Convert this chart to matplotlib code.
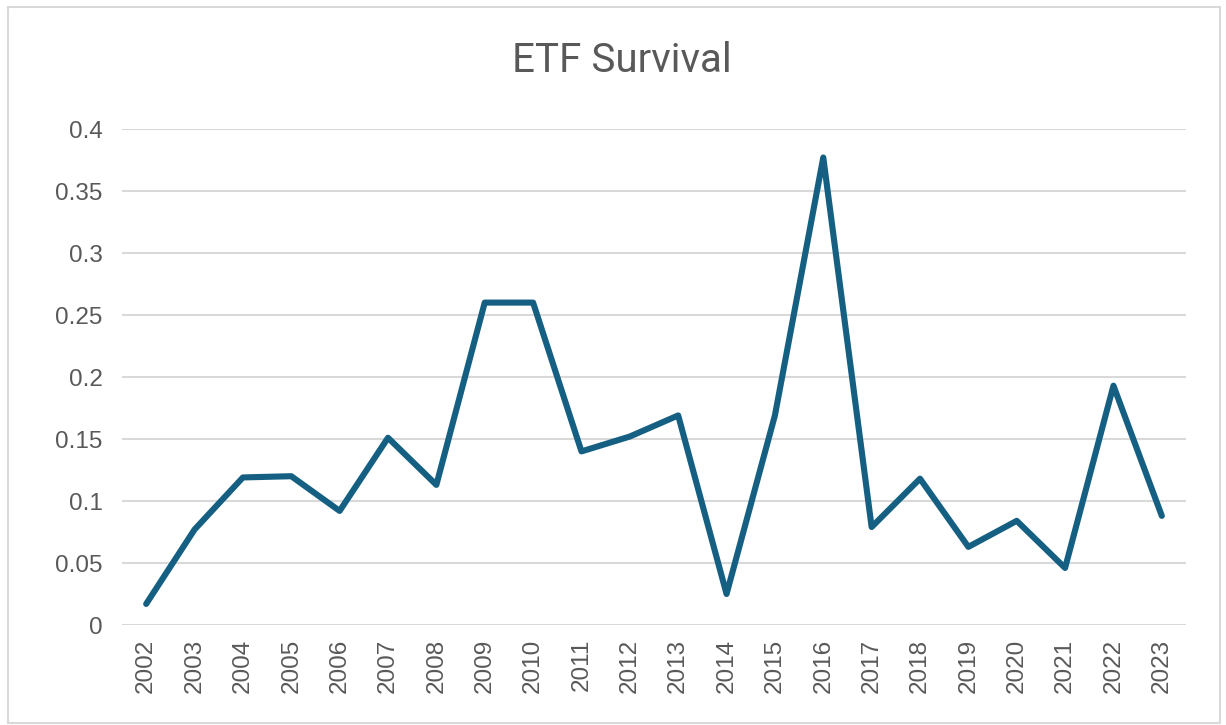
import matplotlib
matplotlib.use("Agg")
import matplotlib.pyplot as plt
from matplotlib.patches import Rectangle

years = [str(y) for y in range(2002, 2024)]
survival = [0.017, 0.077, 0.119, 0.120, 0.092, 0.151, 0.113, 0.260, 0.260, 0.140,
            0.152, 0.169, 0.025, 0.169, 0.377, 0.079, 0.118, 0.063, 0.084, 0.046,
            0.193, 0.088]
yticks = [0, 0.05, 0.1, 0.15, 0.2, 0.25, 0.3, 0.35, 0.4]
yticklabels = ["0", "0.05", "0.1", "0.15", "0.2", "0.25", "0.3", "0.35", "0.4"]

W, H = 1226, 725
fig = plt.figure(figsize=(W / 100, H / 100), dpi=100)
fig.patch.set_facecolor("white")
fig.patches.append(Rectangle((8 / W, 2 / H), 1212 / W, 716 / H, transform=fig.transFigure,
                             fill=False, edgecolor="#d9d9d9", linewidth=1.5))

ax = fig.add_axes([122 / W, 1 - 625 / H, (1186 - 122) / W, (625 - 129) / H])
x = list(range(len(years)))
ax.plot(x, survival, color="#156082", linewidth=4.4, solid_capstyle="round",
        solid_joinstyle="round", zorder=3)
ax.set_xlim(-0.5, len(years) - 0.5)
ax.set_ylim(0, 0.4)
ax.set_yticks(yticks)
ax.set_yticklabels(yticklabels)
ax.set_xticks(x)
ax.set_xticklabels(years, rotation=90)
for s in ax.spines.values():
    s.set_visible(False)
ax.grid(axis="y", color="#d9d9d9", linewidth=1.5)
ax.set_axisbelow(True)
ax.tick_params(axis="both", length=0, colors="#595959", labelsize=17.5)
ax.tick_params(axis="y", pad=14)
ax.tick_params(axis="x", pad=10)
for lab in ax.get_xticklabels() + ax.get_yticklabels():
    lab.set_fontfamily(["Liberation Sans", "DejaVu Sans"])
    lab.set_color("#595959")

fig.text(622 / W, 1 - 61 / H, "ETF Survival", ha="center", va="center",
         fontsize=29, color="#595959",
         family=["Liberation Sans Narrow", "Roboto", "DejaVu Sans"])

fig.savefig("out.png", dpi=100)
